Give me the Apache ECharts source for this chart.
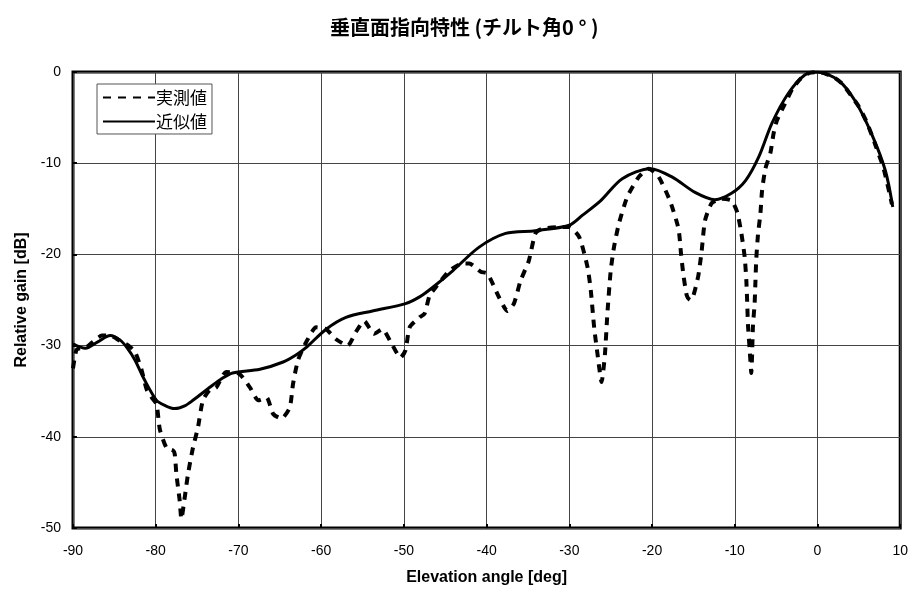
<!DOCTYPE html>
<html>
<head>
<meta charset="utf-8">
<script src="https://cdn.jsdelivr.net/npm/echarts@6/dist/echarts.min.js"></script>
<style>html,body{margin:0;padding:0;background:#fff}#c{width:911px;height:592px}</style>
</head>
<body>
<div id="c"></div>
<script>
var titleText = '垂直面指向特性 (チルト角0 ° )';
var seriesNames = ['実測値', '近似値'];
var xTicks = [-90, 10, 10];
var yTicks = [-50, 0, 10];

var measuredAngle = [-90,-89.6,-89.2,-88.4,-87.6,-86.5,-85.5,-84.3,-83.3,-82.5,-81.7,-81.1,-80.4,-79.9,-79.5,-78.7,-77.9,-77.7,-77.5,-77.1,-76.9,-76.5,-76.1,-75.5,-74.9,-74.3,-73.5,-72.7,-71.5,-69.9,-68.6,-67.6,-66.6,-65.8,-64.8,-63.8,-63.4,-62.8,-61.8,-60.6,-59.4,-58.2,-56.8,-55.8,-54.8,-53.6,-52.6,-51.6,-50.4,-49.8,-49.3,-48.1,-47.5,-46.9,-46.5,-44.5,-42.9,-42.1,-40.7,-39.9,-38.5,-37.5,-36.7,-35.9,-34.9,-34.1,-33.3,-31.3,-30.0,-28.8,-27.8,-27.4,-27.0,-26.6,-26.1,-25.7,-25.4,-25.0,-24.6,-24.0,-23.0,-21.6,-20.4,-19.2,-17.8,-16.8,-16.5,-16.2,-15.8,-15.4,-15.0,-14.4,-14.0,-13.6,-12.8,-11.6,-10.4,-9.7,-9.2,-8.8,-8.6,-8.5,-8.4,-8.2,-8.0,-7.8,-7.6,-7.5,-7.4,-7.2,-6.9,-6.7,-6.3,-5.7,-5.3,-4.9,-4,-3,-2,-1,0,1,2,3,4,5,6,7,8,9];
var measuredGain = [-32.5,-30.5,-30.3,-30.2,-29.6,-28.9,-28.9,-29.5,-30.0,-30.7,-32.7,-34.8,-35.8,-36.4,-39.2,-41.2,-41.5,-41.9,-44.1,-47.0,-49.0,-46.7,-44.1,-41.2,-39.0,-36.0,-34.9,-34.6,-32.9,-33.1,-34.6,-36.0,-35.7,-37.5,-38.0,-36.8,-34.2,-31.6,-29.6,-28.0,-28.2,-29.3,-30.0,-28.5,-27.3,-28.7,-28.2,-29.6,-31.3,-30.5,-28.0,-26.9,-26.5,-24.5,-24.0,-21.8,-21.0,-21.0,-21.9,-22.1,-24.7,-26.2,-25.4,-22.9,-20.7,-17.7,-17.2,-17.0,-17.0,-18.1,-21.4,-24.0,-28.0,-30.9,-34.0,-31.0,-26.5,-21.8,-19.2,-16.6,-13.7,-11.5,-10.6,-11.5,-14.2,-17.2,-19.9,-22.3,-24.5,-25.0,-24.5,-22.3,-19.6,-16.3,-14.4,-13.9,-14.1,-15.4,-17.7,-20.3,-22.9,-25.2,-27.8,-30.4,-33.0,-27.8,-25.4,-22.9,-20.5,-17.9,-15.5,-13.0,-10.6,-8.9,-6.7,-5.3,-3.6,-1.8,-0.7,-0.1,0,-0.2,-0.6,-1.3,-2.5,-3.8,-5.6,-8.0,-10.6,-14.5];

var fittedAngle = [-90,-88.5,-87,-85.5,-84.3,-83.5,-82.5,-81.5,-79.9,-78.8,-77.7,-76.5,-75.5,-73.5,-72,-70.7,-67.4,-64.6,-63,-61.8,-59.4,-57.0,-53.8,-49.8,-48,-46.5,-44.1,-40.9,-37.7,-34.1,-30.0,-28.4,-26.2,-23.6,-20.2,-17.6,-14.8,-12.4,-10.4,-8.7,-7.1,-5.5,-3.5,-1.5,0,2.5,4.5,6.5,8.2,9.1];
var fittedGain = [-29.8,-30.3,-29.6,-28.9,-29.4,-30.2,-31.6,-33.5,-36.0,-36.6,-36.9,-36.6,-36.0,-34.6,-33.6,-33.0,-32.6,-31.8,-31.0,-30.2,-28.2,-26.9,-26.2,-25.4,-24.6,-23.6,-21.8,-19.2,-17.7,-17.4,-16.8,-15.7,-14.1,-11.7,-10.6,-11.5,-13.2,-14.0,-13.3,-11.9,-9.3,-5.6,-2.3,-0.3,0,-0.9,-3.1,-6.7,-10.8,-14.8];

function pairs(xs, ys) { return xs.map(function (x, i) { return [x, ys[i]]; }); }

var chart = echarts.init(document.getElementById('c'), null, {renderer: 'canvas'});
var labelFont = {fontFamily: 'Liberation Sans', fontSize: 14, color: '#000'};
chart.setOption({
  animation: false,
  backgroundColor: '#fff',
  color: ['#000', '#000'],
  title: {
    text: titleText, left: 330, top: 17, padding: 0,
    textStyle: {fontFamily: 'Noto Sans CJK JP', fontWeight: 'bold', fontSize: 20, color: '#000'}
  },
  legend: {
    orient: 'vertical', left: 97, top: 84,
    data: seriesNames,
    itemWidth: 52, itemHeight: 14, itemGap: 7,
    padding: [5, 5, 4, 5],
    borderColor: '#555', borderWidth: 1, borderRadius: 0,
    backgroundColor: '#fff',
    itemStyle: {opacity: 0},
    textStyle: {fontFamily: 'Noto Sans CJK JP', fontSize: 17, color: '#000', padding: [0, 0, 0, -4]}
  },
  grid: {left: 73, right: 10, top: 72, bottom: 64, show: true, borderColor: '#000', borderWidth: 3, backgroundColor: 'transparent'},
  xAxis: {
    type: 'value', min: xTicks[0], max: xTicks[1], interval: xTicks[2],
    name: 'Elevation angle [deg]', nameLocation: 'middle', nameGap: 42,
    nameTextStyle: {fontFamily: 'Liberation Sans', fontWeight: 'bold', fontSize: 16, color: '#000'},
    axisLine: {show: false, onZero: false},
    axisTick: {show: true, inside: true, length: 4, lineStyle: {color: '#000', width: 2}},
    axisLabel: Object.assign({margin: 16}, labelFont),
    splitLine: {show: true, lineStyle: {color: '#444', width: 1}}
  },
  yAxis: {
    type: 'value', min: yTicks[0], max: yTicks[1], interval: yTicks[2],
    name: 'Relative gain [dB]', nameLocation: 'middle', nameGap: 41,
    nameTextStyle: {fontFamily: 'Liberation Sans', fontWeight: 'bold', fontSize: 16, color: '#000'},
    axisLine: {show: false, onZero: false},
    axisTick: {show: true, inside: true, length: 4, lineStyle: {color: '#000', width: 2}},
    axisLabel: Object.assign({margin: 12}, labelFont),
    splitLine: {show: true, lineStyle: {color: '#444', width: 1}}
  },
  series: [
    {
      name: seriesNames[0], type: 'line', data: pairs(measuredAngle, measuredGain),
      showSymbol: false, symbol: 'none', smooth: 0.2, z: 3,
      itemStyle: {color: '#000'},
      lineStyle: {color: '#000', width: 4, type: [8, 7]}
    },
    {
      name: seriesNames[1], type: 'line', data: pairs(fittedAngle, fittedGain),
      showSymbol: false, symbol: 'none', smooth: 0.3, z: 4,
      itemStyle: {color: '#000'},
      lineStyle: {color: '#000', width: 3, type: 'solid'}
    }
  ]
});
</script>
</body>
</html>
